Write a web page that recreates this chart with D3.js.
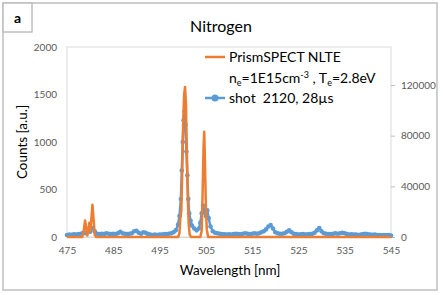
<!DOCTYPE html>
<html><head><meta charset="utf-8">
<script src="https://cdn.jsdelivr.net/npm/d3@7"></script>
<style>
body{margin:0;background:#fff;}
svg{display:block;font-family:"Lato","Open Sans",sans-serif;}
</style></head>
<body><svg id="c" width="443" height="295"></svg>
<script>
// shot 2120, 28us (left axis, counts)
const shotWl = [475,475.5,476,476.5,477,477.5,478,478.5,479,479.5,480,480.5,481,481.5,482,482.5,483,483.5,484,484.5,485,485.5,486,486.5,487,487.5,488,488.5,489,489.5,490,490.5,491,491.5,492,492.5,493,493.5,494,494.5,495,495.5,496,496.5,497,497.5,498,498.5,499,499.3,499.6,499.8,500,500.2,500.4,500.6,500.8,501,501.2,501.4,501.7,502,502.5,503,503.5,503.8,504.1,504.4,504.7,505,505.3,505.6,506,506.5,507,507.5,508,508.5,509,509.5,510,510.5,511,511.5,512,512.5,513,513.5,514,514.5,515,515.5,516,516.5,517,517.5,518,518.5,519,519.5,520,520.5,521,521.5,522,522.5,523,523.5,524,524.5,525,525.5,526,526.5,527,527.5,528,528.5,529,529.5,530,530.5,531,531.5,532,532.5,533,533.5,534,534.5,535,535.5,536,536.5,537,537.5,538,538.5,539,539.5,540,540.5,541,541.5,542,542.5,543,543.5,544,544.5,545];
const shotCounts = [20,25,22,28,25,30,35,45,40,60,55,95,60,35,30,35,30,40,35,30,35,30,40,55,40,35,30,35,40,60,65,45,35,50,45,30,25,20,25,20,25,25,30,30,35,40,50,70,130,220,400,700,1000,1230,1320,1180,900,650,400,250,170,120,90,70,90,150,250,330,260,220,280,200,110,60,45,40,35,30,28,25,28,25,30,35,30,28,35,40,35,30,35,40,35,40,50,60,80,110,125,90,50,40,35,35,40,55,70,50,35,30,25,28,30,25,28,30,35,45,70,95,60,40,35,30,30,35,40,35,40,45,40,30,25,28,25,25,20,25,30,35,28,25,22,25,20,20,18,20,18,20,15];
// PrismSPECT NLTE simulation (right axis)
const simWl = [475,478.3,478.6,478.9,479.2,479.4,479.6,479.8,480.0,480.2,480.5,480.8,481.0,481.3,499.0,499.3,499.5,499.7,499.9,500.1,500.3,500.5,500.7,500.9,501.1,501.3,501.5,501.8,503.8,504.1,504.3,504.5,504.65,504.8,505.0,505.2,505.5,545];
const simCounts = [0,0,4500,13000,6000,1100,4500,11200,4500,11200,25500,11200,1500,0,0,3000,15000,21000,52000,90000,112000,118500,105000,67000,30000,10000,2000,0,0,5000,35000,70000,83000,60000,25000,6000,0,0];

const leftTicks = [0,500,1000,1500,2000];
const rightTicks = [0,40000,80000,120000];
const xTicks = [475,485,495,505,515,525,535,545];

const svg = d3.select("#c");
const M = {l:67, r:391, t:47, b:237};
const x = d3.scaleLinear().domain([475,545]).range([M.l,M.r]);
const yL = d3.scaleLinear().domain([0,2000]).range([M.b,M.t]);
const yR = d3.scaleLinear().domain([0,150000]).range([M.b,M.t]);

// outer frame
svg.append("rect").attr("x",3).attr("y",3).attr("width",434).attr("height",287)
  .attr("fill","#fff").attr("stroke","#bfbfbf").attr("stroke-width",1.5);
svg.append("rect").attr("x",3).attr("y",3).attr("width",29).attr("height",29)
  .attr("fill","#fff").attr("stroke","#bfbfbf").attr("stroke-width",1.5);
svg.append("text").attr("x",17.5).attr("y",23).attr("text-anchor","middle")
  .attr("font-weight","bold").attr("font-size",14).attr("fill","#000").text("a");

// plot area border
svg.append("rect").attr("x",M.l).attr("y",M.t).attr("width",M.r-M.l).attr("height",M.b-M.t)
  .attr("fill","none").attr("stroke","#d9d9d9").attr("stroke-width",1);

// title
svg.append("text").attr("x",221).attr("y",32).attr("text-anchor","middle")
  .attr("font-size",16).attr("fill","#000").text("Nitrogen");

// axes
const tc = "#595959";
const gx = svg.append("g").attr("transform",`translate(0,${M.b})`)
  .call(d3.axisBottom(x).tickValues(xTicks).tickSize(0).tickPadding(10));
gx.select(".domain").attr("stroke","#d9d9d9");
gx.selectAll("text").attr("font-size",10).attr("fill",tc).attr("font-family","Lato");

const gl = svg.append("g").attr("transform",`translate(${M.l},0)`)
  .call(d3.axisLeft(yL).tickValues(leftTicks).tickSize(0).tickPadding(10).tickFormat(d3.format("d")));
gl.select(".domain").remove();
gl.selectAll("text").attr("font-size",10).attr("fill",tc).attr("font-family","Lato");

const gr = svg.append("g").attr("transform",`translate(${M.r},0)`)
  .call(d3.axisRight(yR).tickValues(rightTicks).tickSize(4).tickPadding(6).tickFormat(d3.format("d")));
gr.select(".domain").remove();
gr.selectAll("line").attr("stroke","#bfbfbf");
gr.selectAll("text").attr("font-size",10).attr("fill",tc).attr("font-family","Lato");

// axis titles
svg.append("text").attr("x",230).attr("y",275).attr("text-anchor","middle")
  .attr("font-size",13.5).attr("fill","#000").text("Wavelength [nm]");
svg.append("text").attr("transform","translate(27,142) rotate(-90)").attr("text-anchor","middle")
  .attr("font-size",13.5).attr("fill","#000").text("Counts [a.u.]");

// data
const shot = shotWl.map((w,i)=>({w, v:shotCounts[i]}));
const sim = simWl.map((w,i)=>({w, v:simCounts[i]}));
const blue = "#5b9bd5", orange = "#ed7d31";

svg.append("path").datum(shot).attr("fill","none").attr("stroke",blue).attr("stroke-width",2.5)
  .attr("stroke-linejoin","round")
  .attr("d", d3.line().x(d=>x(d.w)).y(d=>yL(d.v)));
svg.append("g").selectAll("circle").data(shot).join("circle")
  .attr("cx",d=>x(d.w)).attr("cy",d=>yL(d.v)).attr("r",2.3).attr("fill",blue);

svg.append("path").datum(sim).attr("fill","none").attr("stroke",orange).attr("stroke-width",2.5)
  .attr("stroke-linejoin","round")
  .attr("d", d3.line().x(d=>x(d.w)).y(d=>yR(d.v)));

// legend
const lg = svg.append("g");
lg.append("line").attr("x1",205).attr("x2",225).attr("y1",57).attr("y2",57).attr("stroke",orange).attr("stroke-width",2.5);
lg.append("text").attr("x",229).attr("y",62).attr("font-size",14).attr("fill","#000").text("PrismSPECT NLTE");
const t2 = lg.append("text").attr("x",229).attr("y",83).attr("font-size",14).attr("fill","#000");
t2.append("tspan").text("n");
t2.append("tspan").attr("font-size",9).attr("dy",3).text("e");
t2.append("tspan").attr("dy",-3).text("=1E15cm");
t2.append("tspan").attr("font-size",9).attr("dy",-5).text("-3");
t2.append("tspan").attr("dy",5).text("\u00a0, T");
t2.append("tspan").attr("font-size",9).attr("dy",3).text("e");
t2.append("tspan").attr("dy",-3).text("=2.8eV");
lg.append("line").attr("x1",205).attr("x2",225).attr("y1",98).attr("y2",98).attr("stroke",blue).attr("stroke-width",2.5);
lg.append("circle").attr("cx",215).attr("cy",98).attr("r",3.5).attr("fill",blue);
lg.append("text").attr("x",229).attr("y",103).attr("font-size",14).attr("fill","#000").text("shot\u00a0\u00a02120, 28µs");
</script></body></html>
